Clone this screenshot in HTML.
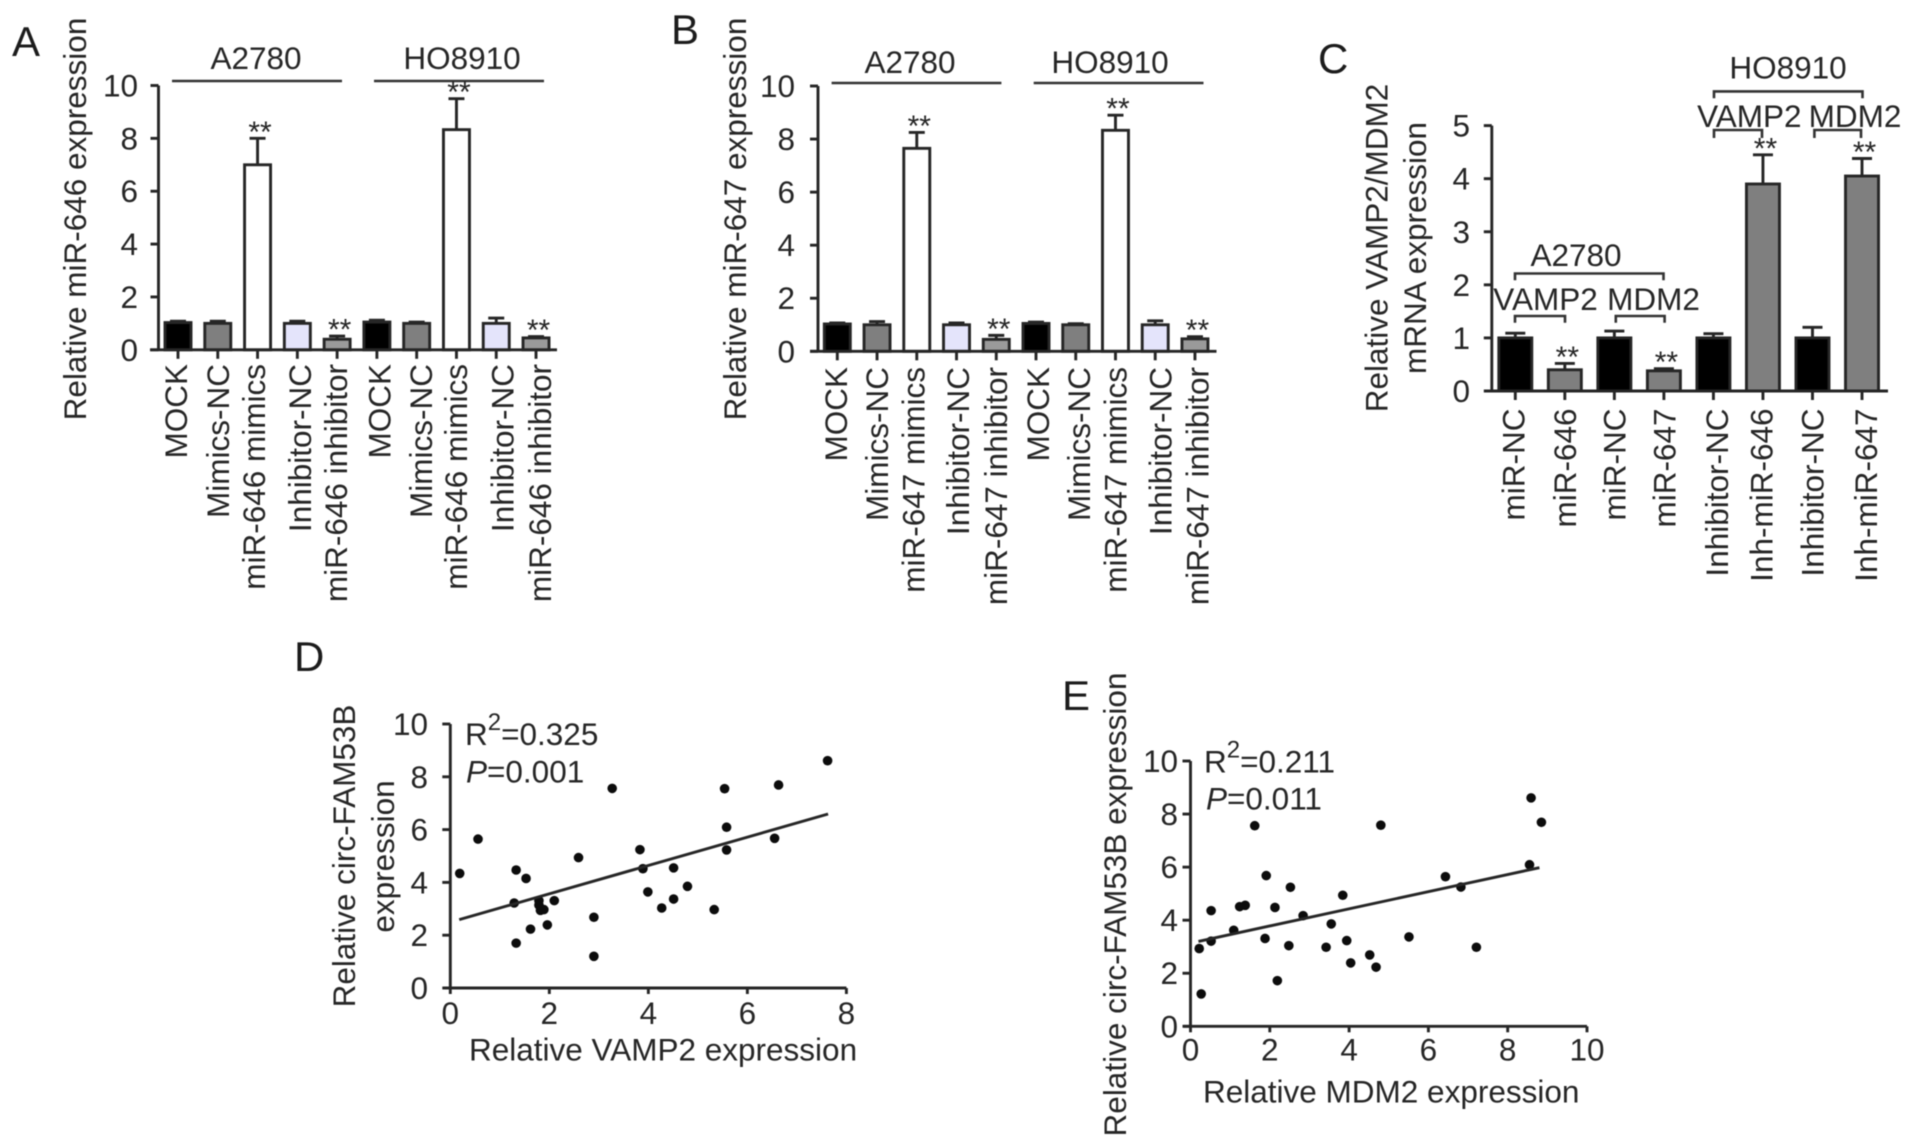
<!DOCTYPE html>
<html lang="en">
<head>
<meta charset="utf-8">
<title>miRNA expression figure</title>
<style>
html,body{margin:0;padding:0;background:#fff;width:1913px;height:1146px;overflow:hidden}
svg{display:block;filter:blur(.65px)}
text{font-family:"Liberation Sans",Arial,sans-serif;font-size:31.5px;fill:#262626}
.letter{font-size:42px;fill:#1c1c1c}
.cat{text-anchor:end}
.mid{text-anchor:middle}
.ink{stroke:#262626;stroke-width:2.9;fill:none}
.thin{stroke:#333;stroke-width:2.6;fill:none}
</style>
</head>
<body>
<svg id="figure" xmlns="http://www.w3.org/2000/svg" width="1913" height="1146" viewBox="0 0 1913 1146">
<rect width="1913" height="1146" fill="#fff"/>

<text class="letter" x="12" y="56">A</text>
<text class="letter" x="671" y="44">B</text>
<text class="letter" x="1318" y="73">C</text>
<text class="letter" x="294" y="671">D</text>
<text class="letter" x="1062" y="710">E</text>

<!-- Panel A static text -->
<text class="mid" transform="translate(86,219) rotate(-90)">Relative miR-646 expression</text>
<text class="mid" x="256" y="69">A2780</text>
<text class="mid" x="462" y="69">HO8910</text>
<line class="thin" x1="172" y1="81" x2="342" y2="81"/>
<line class="thin" x1="374" y1="81" x2="544" y2="81"/>
<text class="cat" transform="translate(187,364) rotate(-90)">MOCK</text>
<text class="cat" transform="translate(229,364) rotate(-90)">Mimics-NC</text>
<text class="cat" transform="translate(265,364) rotate(-90)">miR-646 mimics</text>
<text class="cat" transform="translate(311,364) rotate(-90)">Inhibitor-NC</text>
<text class="cat" transform="translate(347,364) rotate(-90)">miR-646 inhibitor</text>
<text class="cat" transform="translate(390.5,364) rotate(-90)">MOCK</text>
<text class="cat" transform="translate(432,364) rotate(-90)">Mimics-NC</text>
<text class="cat" transform="translate(467,364) rotate(-90)">miR-646 mimics</text>
<text class="cat" transform="translate(513.5,364) rotate(-90)">Inhibitor-NC</text>
<text class="cat" transform="translate(551,364) rotate(-90)">miR-646 inhibitor</text>

<!-- Panel B static text -->
<text class="mid" transform="translate(746,219) rotate(-90)">Relative miR-647 expression</text>
<text class="mid" x="910" y="73">A2780</text>
<text class="mid" x="1110" y="73">HO8910</text>
<line class="thin" x1="831.6" y1="83" x2="1001.4" y2="83"/>
<line class="thin" x1="1033.7" y1="83" x2="1203.5" y2="83"/>
<text class="cat" transform="translate(847,367) rotate(-90)">MOCK</text>
<text class="cat" transform="translate(888,367) rotate(-90)">Mimics-NC</text>
<text class="cat" transform="translate(924.3,367) rotate(-90)">miR-647 mimics</text>
<text class="cat" transform="translate(969.2,367) rotate(-90)">Inhibitor-NC</text>
<text class="cat" transform="translate(1007,367) rotate(-90)">miR-647 inhibitor</text>
<text class="cat" transform="translate(1049,367) rotate(-90)">MOCK</text>
<text class="cat" transform="translate(1090,367) rotate(-90)">Mimics-NC</text>
<text class="cat" transform="translate(1126.3,367) rotate(-90)">miR-647 mimics</text>
<text class="cat" transform="translate(1171.6,367) rotate(-90)">Inhibitor-NC</text>
<text class="cat" transform="translate(1208.4,367) rotate(-90)">miR-647 inhibitor</text>

<!-- Panel C static text -->
<text class="mid" transform="translate(1387.3,248) rotate(-90)">Relative VAMP2/MDM2</text>
<text class="mid" transform="translate(1426,248) rotate(-90)">mRNA expression</text>
<text class="mid" x="1576" y="266">A2780</text>
<path class="thin" d="M1515,280.2V273.5H1663.5V280.2"/>
<text class="mid" x="1545.5" y="310">VAMP2</text>
<text class="mid" x="1653.5" y="310">MDM2</text>
<path class="thin" d="M1515,322.7V316H1565V322.7"/>
<path class="thin" d="M1615.8,322.7V316H1664.6V322.7"/>
<text class="mid" x="1788" y="78.7">HO8910</text>
<path class="thin" d="M1714,98.2V91.4H1862.5V98.2"/>
<text class="mid" x="1749.3" y="127.2">VAMP2</text>
<text class="mid" x="1855" y="127.2">MDM2</text>
<path class="thin" d="M1714,138V130H1762V138"/>
<path class="thin" d="M1814.4,138V130H1861V138"/>
<text class="cat" transform="translate(1524.4,408.5) rotate(-90)">miR-NC</text>
<text class="cat" transform="translate(1576,408.5) rotate(-90)">miR-646</text>
<text class="cat" transform="translate(1625.7,408.5) rotate(-90)">miR-NC</text>
<text class="cat" transform="translate(1675.4,408.5) rotate(-90)">miR-647</text>
<text class="cat" transform="translate(1728,408.5) rotate(-90)">Inhibitor-NC</text>
<text class="cat" transform="translate(1772.7,408.5) rotate(-90)">Inh-miR-646</text>
<text class="cat" transform="translate(1823.6,408.5) rotate(-90)">Inhibitor-NC</text>
<text class="cat" transform="translate(1876.8,408.5) rotate(-90)">Inh-miR-647</text>

<!-- Panel D static text -->
<text class="mid" transform="translate(355,856) rotate(-90)">Relative circ-FAM53B</text>
<text class="mid" transform="translate(394,856.5) rotate(-90)">expression</text>
<text x="469" y="1060.5">Relative VAMP2 expression</text>
<text x="465" y="745">R<tspan dy="-15" font-size="24" style="font-size:24px">2</tspan><tspan dy="15">=0.325</tspan></text>
<text x="466" y="782.3"><tspan font-style="italic">P</tspan>=0.001</text>

<!-- Panel E static text -->
<text class="mid" transform="translate(1126,904.5) rotate(-90)">Relative circ-FAM53B expression</text>
<text x="1203" y="1102.7">Relative MDM2 expression</text>
<text x="1204" y="772.5">R<tspan dy="-15" font-size="24" style="font-size:24px">2</tspan><tspan dy="15">=0.211</tspan></text>
<text x="1206" y="809.3"><tspan font-style="italic">P</tspan>=0.011</text>
</svg>

<script>
// ---- Panel A data ----
const aCategories = ['MOCK','Mimics-NC','miR-646 mimics','Inhibitor-NC','miR-646 inhibitor','MOCK','Mimics-NC','miR-646 mimics','Inhibitor-NC','miR-646 inhibitor'];
const aValues = [1.03,1.0,7.0,1.0,0.4,1.05,1.0,8.33,1.0,0.45];
const aErrorTops = [1.08,1.08,8.0,1.08,0.52,1.12,1.05,9.5,1.2,0.5];
const aMarks = ['','','**','','**','','','**','','**'];
const aTicks = [0,2,4,6,8,10];
// ---- Panel B data ----
const bCategories = ['MOCK','Mimics-NC','miR-647 mimics','Inhibitor-NC','miR-647 inhibitor','MOCK','Mimics-NC','miR-647 mimics','Inhibitor-NC','miR-647 inhibitor'];
const bValues = [1.03,1.0,7.65,1.0,0.45,1.05,1.0,8.33,1.0,0.47];
const bErrorTops = [1.07,1.12,8.25,1.07,0.6,1.1,1.04,8.9,1.15,0.55];
const bMarks = ['','','**','','**','','','**','','**'];
const bTicks = [0,2,4,6,8,10];
// ---- Panel C data ----
const cCategories = ['miR-NC','miR-646','miR-NC','miR-647','Inhibitor-NC','Inh-miR-646','Inhibitor-NC','Inh-miR-647'];
const cValues = [1.0,0.4,1.0,0.38,1.0,3.9,1.0,4.05];
const cErrorTops = [1.09,0.52,1.13,0.42,1.08,4.45,1.2,4.38];
const cMarks = ['','**','','**','','**','','**'];
const cTicks = [0,1,2,3,4,5];
// ---- Panel D data ----
const dXValues = [0.19,0.56,1.29,1.33,1.33,1.53,1.62,1.79,1.79,1.82,1.89,1.96,2.10,2.59,2.90,2.90,3.27,3.83,3.89,3.99,4.27,4.51,4.51,4.79,5.33,5.54,5.58,5.58,6.55,6.63,7.62];
const dYValues = [4.34,5.64,3.22,4.47,1.70,4.15,2.23,3.31,3.14,2.94,2.97,2.39,3.31,4.94,2.68,1.20,7.56,5.24,4.52,3.64,3.03,4.55,3.37,3.85,2.97,7.55,6.09,5.23,5.67,7.69,8.61];
const dFitX = [0.18,7.63];
const dFitY = [2.59,6.59];
const dXTicks = [0,2,4,6,8];
const dYTicks = [0,2,4,6,8,10];
// ---- Panel E data ----
const eXValues = [0.22,0.27,0.52,0.52,1.09,1.24,1.38,1.62,1.88,1.91,2.13,2.19,2.48,2.52,2.84,3.42,3.55,3.84,3.94,4.04,4.52,4.68,4.80,5.51,6.43,6.82,7.21,8.55,8.59,8.85];
const eYValues = [2.93,1.22,4.36,3.21,3.62,4.51,4.56,7.56,3.31,5.68,4.48,1.72,3.04,5.24,4.17,2.98,3.86,4.94,3.23,2.39,2.69,2.23,7.58,3.37,5.64,5.25,2.98,6.09,8.61,7.69];
const eFitX = [0.2,8.8];
const eFitY = [3.2,5.98];
const eXTicks = [0,2,4,6,8,10];
const eYTicks = [0,2,4,6,8,10];

const NS = 'http://www.w3.org/2000/svg';
const root = document.getElementById('figure');
function mk(tag, props) {
  const el = document.createElementNS(NS, tag);
  for (const k in props) el.setAttribute(k, props[k]);
  root.appendChild(el);
  return el;
}
function linear(d0, d1, r0, r1) {
  return function (v) { return r0 + (v - d0) / (d1 - d0) * (r1 - r0); };
}
const barFills10 = ['#000','#7f7f7f','#fff','#e4e4fb','#9a9a9a','#000','#7f7f7f','#fff','#e4e4fb','#9a9a9a'];
const barFills8 = ['#000','#7f7f7f','#000','#7f7f7f','#000','#7f7f7f','#000','#7f7f7f'];

function drawYAxis(id, y, ticks, axisX, labelX, top, bottom) {
  const spine = mk('line', {x1: axisX, x2: axisX, y1: top, y2: bottom, class: 'ink'});
  
  
  ticks.forEach(function (t) {
    const tick = mk('line', {x1: axisX - 8, x2: axisX, y1: y(t), y2: y(t), class: 'ink'});
    
    
    const lab = mk('text', {x: labelX, y: y(t) + 11, 'text-anchor': 'end'});
    
    
    lab.textContent = t;
  });
}

function drawBars(id, cats, vals, tops, marks, ticks, fills, g) {
  const y = linear(0, ticks[ticks.length - 1], g.y0, g.yTop);
  const x = function (i) { return g.x0 + i * g.step; };
  drawYAxis(id, y, ticks, g.axisX, g.labelX, g.yTop, g.y0);
  cats.forEach(function (name, i) {
    const cx = x(i);
    const err = mk('path', {d: 'M' + cx + ',' + y(vals[i]) + 'V' + y(tops[i]) + 'M' + (cx - g.cap) + ',' + y(tops[i]) + 'H' + (cx + g.cap), class: 'ink'});
    
    
    const bar = mk('rect', {x: cx - g.w / 2, y: y(vals[i]), width: g.w, height: g.y0 - y(vals[i]), fill: fills[i], stroke: '#262626', 'stroke-width': 2.9});
    
    
    const tick = mk('line', {x1: cx, x2: cx, y1: g.y0, y2: g.y0 + 9, class: 'ink'});
    
    
    if (marks[i]) {
      const star = mk('text', {x: cx + 2.5, y: y(tops[i]) + 3.5, 'text-anchor': 'middle'});
      
      
      star.style.fontSize = '30px';
      star.textContent = marks[i];
    }
  });
  const base = mk('line', {x1: g.xStart, x2: g.xEnd, y1: g.y0, y2: g.y0, class: 'ink'});
  
  
}

function drawScatter(id, xs, ys, fitX, fitY, xTicks, yTicks, g) {
  const x = linear(0, xTicks[xTicks.length - 1], g.x0, g.x1);
  const y = linear(0, yTicks[yTicks.length - 1], g.y0, g.yTop);
  drawYAxis(id, y, yTicks, g.x0, g.labelX, g.yTop, g.y0);
  const base = mk('line', {x1: g.x0 - 7, x2: g.x1, y1: g.y0, y2: g.y0, class: 'ink'});
  
  
  xTicks.forEach(function (t) {
    const tick = mk('line', {x1: x(t), x2: x(t), y1: g.y0, y2: g.y0 + 6, class: 'ink'});
    
    
    const lab = mk('text', {x: x(t), y: g.xLabelY, 'text-anchor': 'middle'});
    
    
    lab.textContent = t;
  });
  xs.forEach(function (v, i) {
    const pt = mk('circle', {cx: x(v), cy: y(ys[i]), r: 4.8, fill: '#0c0c0c'});
    
    
  });
  const fit = mk('line', {x1: x(fitX[0]), y1: y(fitY[0]), x2: x(fitX[1]), y2: y(fitY[1]), class: 'ink'});
  
  
}

drawBars('panel-a', aCategories, aValues, aErrorTops, aMarks, aTicks, barFills10,
  {x0: 178, step: 39.78, w: 26, cap: 8, y0: 349.8, yTop: 85.5, axisX: 158.5, labelX: 138, xStart: 150, xEnd: 557});
drawBars('panel-b', bCategories, bValues, bErrorTops, bMarks, bTicks, barFills10,
  {x0: 837.3, step: 39.74, w: 26, cap: 8, y0: 351.3, yTop: 86, axisX: 818, labelX: 795, xStart: 810, xEnd: 1216.5});
drawBars('panel-c', cCategories, cValues, cErrorTops, cMarks, cTicks, barFills8,
  {x0: 1515.3, step: 49.53, w: 33, cap: 10, y0: 391, yTop: 125.6, axisX: 1491.8, labelX: 1470, xStart: 1484, xEnd: 1888});
drawScatter('panel-d', dXValues, dYValues, dFitX, dFitY, dXTicks, dYTicks,
  {x0: 450.3, x1: 846.4, y0: 988, yTop: 724, labelX: 428, xLabelY: 1024});
drawScatter('panel-e', eXValues, eYValues, eFitX, eFitY, eXTicks, eYTicks,
  {x0: 1190.5, x1: 1587, y0: 1026.3, yTop: 761, labelX: 1178, xLabelY: 1060.5});
</script>
</body>
</html>
